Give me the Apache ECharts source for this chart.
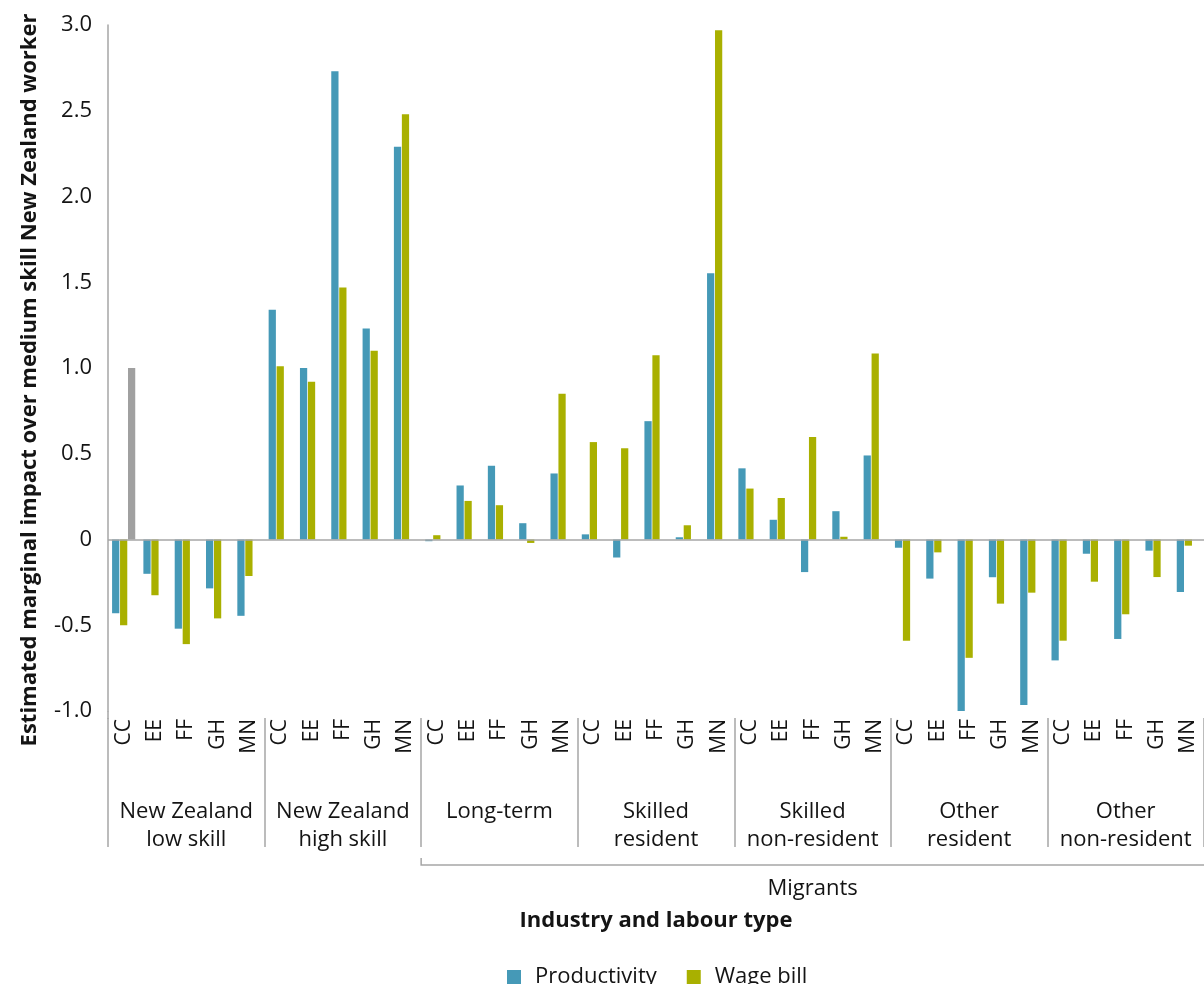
<!DOCTYPE html>
<html>
<head>
<meta charset="utf-8">
<title>Estimated marginal impact by industry and labour type</title>
<script src="https://cdn.jsdelivr.net/npm/echarts@6/dist/echarts.min.js"></script>
<style>
  html, body { margin: 0; padding: 0; background: #ffffff; }
  #chart { width: 1204px; height: 984px; }
</style>
</head>
<body>
<div id="chart"></div>
<script>
// Industry codes repeated under every labour type
const industries = ['CC', 'EE', 'FF', 'GH', 'MN'];
// Labour types (group labels under the industry codes)
const labourTypes = [
  'New Zealand\nlow skill',
  'New Zealand\nhigh skill',
  'Long-term',
  'Skilled\nresident',
  'Skilled\nnon-resident',
  'Other\nresident',
  'Other\nnon-resident'
];
// Index of the first labour type that belongs to the migrant block
const firstMigrantType = 2;
const migrantLabel = 'Migrants';

// Productivity estimates, five industries per labour type
const productivity = [
  -0.43, -0.20, -0.52, -0.285, -0.445,
   1.34,  1.00,  2.73,  1.23,   2.29,
  -0.01,  0.315, 0.43,  0.095,  0.385,
   0.03, -0.105, 0.69,  0.013,  1.553,
   0.415, 0.115,-0.19,  0.165,  0.49,
  -0.048,-0.228,-1.00, -0.22,  -0.965,
  -0.705,-0.083,-0.58, -0.065, -0.306
];
// Wage bill estimates, five industries per labour type
const wageBill = [
  -0.50, -0.325,-0.61, -0.46,  -0.213,
   1.01,  0.92,  1.47,  1.10,   2.48,
   0.025, 0.225, 0.20, -0.02,   0.85,
   0.568, 0.532, 1.074, 0.083,  2.97,
   0.297, 0.242, 0.597, 0.016,  1.085,
  -0.59, -0.075,-0.69, -0.374, -0.31,
  -0.59, -0.246,-0.436,-0.219, -0.036
];
// Medium skill reference level (only drawn in the first slot)
const baseline = [1.0];

// Value axis ticks
const yMin = -1.0, yMax = 3.0, yStep = 0.5;

const categories = [];
labourTypes.forEach(() => industries.forEach(code => categories.push(code)));
const baselineData = categories.map((_, i) => (i < baseline.length ? baseline[i] : null));

const FONT = '"Open Sans", "Noto Sans", sans-serif';
const TEXT = '#141414';
const AXIS = '#a6a6a6';

const chart = echarts.init(document.getElementById('chart'), null, { renderer: 'canvas' });

const option = {
  backgroundColor: '#ffffff',
  animation: false,
  textStyle: { fontFamily: FONT, color: TEXT },
  grid: { left: 108, top: 25, width: 1103, height: 686, containLabel: false },
  legend: {
    data: ['Productivity', 'Wage bill'],
    top: 961,
    left: 502,
    icon: 'rect',
    itemWidth: 14,
    itemHeight: 14,
    itemGap: 30,
    textStyle: { fontFamily: FONT, fontSize: 22, color: TEXT, padding: [0, 0, 0, 9] }
  },
  xAxis: [
    {
      type: 'category',
      data: categories,
      position: 'bottom',
      axisLine: { show: false },
      axisTick: { show: false },
      axisLabel: {
        interval: 0, rotate: 90, margin: 8,
        fontFamily: FONT, fontSize: 21, color: TEXT
      },
      name: 'Industry and labour type',
      nameLocation: 'middle',
      nameGap: 199,
      nameTextStyle: { fontFamily: FONT, fontSize: 22, fontWeight: 'bold', color: TEXT }
    },
    {
      type: 'category',
      data: labourTypes,
      position: 'bottom',
      offset: 7,
      axisLine: { show: false },
      axisTick: { show: true, interval: 0, length: 129, lineStyle: { color: AXIS, width: 1.5 } },
      axisLabel: {
        interval: 0, margin: 80,
        fontFamily: FONT, fontSize: 22, lineHeight: 28, color: TEXT
      }
    }
  ],
  yAxis: {
    type: 'value',
    min: yMin, max: yMax, interval: yStep,
    axisLine: { show: true, lineStyle: { color: AXIS, width: 1.5 } },
    axisTick: { show: false },
    splitLine: { show: false },
    axisLabel: {
      margin: 16, fontFamily: FONT, fontSize: 22, color: TEXT,
      formatter: v => (Math.abs(v) < 1e-9 ? '0' : v.toFixed(1))
    }
  },
  series: [
    {
      name: 'Productivity',
      type: 'bar',
      xAxisIndex: 0,
      data: productivity,
      barCategoryGap: '26%',
      barGap: '10%',
      itemStyle: { color: '#4599b7' },
      markLine: {
        silent: true,
        symbol: ['none', 'none'],
        label: { show: false },
        lineStyle: { color: AXIS, width: 1.5, type: 'solid' },
        data: [{ yAxis: 0 }]
      }
    },
    {
      name: 'Wage bill',
      type: 'bar',
      xAxisIndex: 0,
      data: wageBill,
      barCategoryGap: '26%',
      barGap: '10%',
      itemStyle: { color: '#a9b000' }
    },
    {
      name: 'Medium skill',
      type: 'bar',
      xAxisIndex: 0,
      data: baselineData,
      barCategoryGap: '26%',
      barGap: '10%',
      itemStyle: { color: '#a0a0a0' }
    }
  ]
};

chart.setOption(option);

// Decorations placed from the axes: y-axis line continuation, migrant bracket and label
const px = (i) => chart.convertToPixel({ xAxisIndex: 0, yAxisIndex: 0 }, [i, yMin]);
const step = px(1)[0] - px(0)[0];
const gridLeft = px(0)[0] - step / 2;
const gridRight = px(categories.length - 1)[0] + step / 2;
const gridBottom = px(0)[1];
const bracketLeft = px(firstMigrantType * industries.length)[0] - step / 2;

chart.setOption({
  graphic: [
    {
      type: 'text',
      x: 30, y: 380,
      rotation: Math.PI / 2,
      style: {
        text: 'Estimated marginal impact over medium skill New Zealand worker',
        font: 'bold 22px ' + FONT,
        fill: TEXT,
        align: 'center',
        verticalAlign: 'middle'
      }
    },
    {
      type: 'line',
      shape: { x1: gridLeft, y1: gridBottom, x2: gridLeft, y2: gridBottom + 8 },
      style: { stroke: AXIS, lineWidth: 1.5 }
    },
    {
      type: 'polyline',
      shape: { points: [[bracketLeft, gridBottom + 147], [bracketLeft, gridBottom + 154], [gridRight, gridBottom + 154]] },
      style: { stroke: AXIS, lineWidth: 1.5, fill: null }
    },
    {
      type: 'text',
      x: (bracketLeft + gridRight) / 2, y: gridBottom + 178,
      style: {
        text: migrantLabel,
        font: '22px ' + FONT,
        fill: TEXT,
        align: 'center',
        verticalAlign: 'middle'
      }
    }
  ]
});
</script>
</body>
</html>
